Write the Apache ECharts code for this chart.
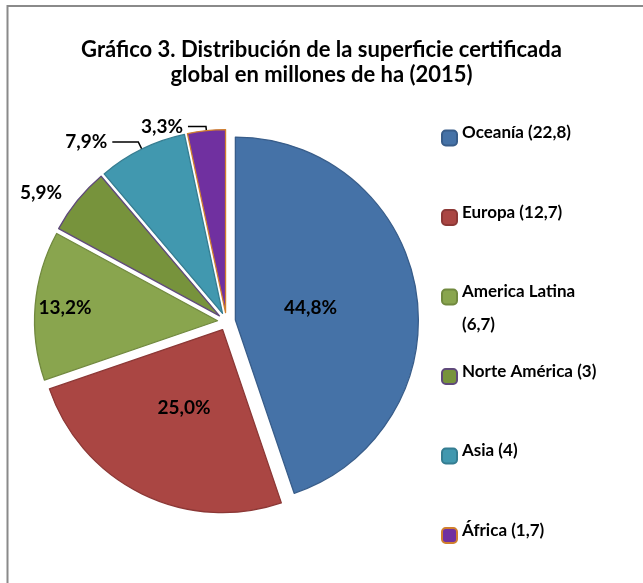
<!DOCTYPE html>
<html>
<head>
<meta charset="utf-8">
<script src="https://cdn.jsdelivr.net/npm/echarts@6/dist/echarts.min.js"></script>
<style>
  html, body { margin: 0; padding: 0; background: #fff; }
  #chart { width: 643px; height: 583px; }
</style>
</head>
<body>
<div id="chart"></div>
<script>
// superficie certificada por región, millones de ha (2015)
const regions = ["Oceanía", "Europa", "America Latina", "Norte América", "Asia", "África"];
const hectares = [22.8, 12.7, 6.7, 3, 4, 1.7];

const fills = ["#4572A7", "#AA4643", "#89A54E", "#77933C", "#4198AF", "#7030A0"];
const borders = ["#385D8A", "#8C3836", "#71893F", "#5F497A", "#357D91", "#D07F2E"];

// where each percentage sits along its slice radius (0 = apex, 1 = rim)
const insideRadius = [0.4, 0.46, 0.82];
const outsideLine = [
  { length: 12, length2: 1, show: false },
  { length: 8, length2: 26, show: true },
  { length: 4, length2: 18, show: true },
];

const total = hectares.reduce((a, b) => a + b, 0);
const fmt = (v, d) => v.toFixed(d).replace(".", ",");

const PIE_R = 183;
const MAX_ONE_LINE = 18;

// mid angle of every slice, clockwise from 12 o'clock
const midAngles = [];
let acc = 0;
hectares.forEach((v) => {
  midAngles.push(((acc + v / 2) / total) * Math.PI * 2);
  acc += v;
});

const legendText = (name) => {
  const i = regions.indexOf(name);
  const full = `${name} (${fmt(hectares[i], 1).replace(",0", "")})`;
  if (full.length > MAX_ONE_LINE) {
    return `{s| }\n{t|${name}}\n{t|(${fmt(hectares[i], 1)})}`;
  }
  return `{s| }\n{t|${full}}\n{t| }`;
};

const seriesData = regions.map((name, i) => {
  const item = {
    name,
    value: hectares[i],
    selected: true,
    itemStyle: { color: fills[i], borderColor: borders[i], borderWidth: 1.3 },
    select: { itemStyle: { color: fills[i], borderColor: borders[i], borderWidth: 1.3 } },
  };
  if (i >= 3) {
    const ol = outsideLine[i - 3];
    item.label = { position: "outside" };
    item.labelLine = {
      show: ol.show,
      length: ol.length,
      length2: ol.length2,
      lineStyle: { color: "#000", width: 1.5 },
    };
  }
  return item;
});

const chart = echarts.init(document.getElementById("chart"));

chart.setOption({
  backgroundColor: "#fff",
  animation: false,
  title: {
    text: "Gráfico 3. Distribución de la superficie certificada\nglobal en millones de ha (2015)",
    left: "center",
    top: 32,
    textStyle: {
      fontFamily: "Lato",
      fontWeight: "bold",
      fontSize: 22,
      lineHeight: 25,
      color: "#000",
    },
  },
  legend: {
    orient: "vertical",
    left: 436,
    top: 95,
    itemWidth: 15,
    itemHeight: 15,
    itemGap: 5,
    selectedMode: false,
    data: regions,
    formatter: legendText,
    textStyle: {
      rich: {
        s: { fontSize: 10, lineHeight: 23 },
        t: {
          fontFamily: "Lato",
          fontWeight: "bold",
          fontSize: 17,
          lineHeight: 33,
          color: "#000",
        },
      },
    },
  },
  graphic: [
    {
      type: "polyline",
      silent: true,
      shape: { points: [[7.5, 583], [7.5, 6], [643, 6]] },
      style: { stroke: "#8a8a8a", lineWidth: 2, fill: null },
    },
  ],
  series: [
    {
      type: "pie",
      center: [226.5, 321.5],
      radius: PIE_R,
      startAngle: 90,
      clockwise: true,
      selectedMode: "multiple",
      selectedOffset: 9,
      avoidLabelOverlap: false,
      silent: true,
      emphasis: { disabled: true },
      label: {
        show: true,
        position: "inside",
        formatter: (p) => `${fmt((p.value / total) * 100, 1)}%`,
        fontFamily: "Lato",
        fontWeight: "bold",
        fontSize: 19,
        color: "#000",
      },
      labelLayout: (p) => {
        const i = p.dataIndex;
        if (i >= insideRadius.length) return {};
        const shift = (insideRadius[i] - 0.5) * PIE_R;
        return {
          dx: shift * Math.sin(midAngles[i]),
          dy: -shift * Math.cos(midAngles[i]),
        };
      },
      data: seriesData,
    },
  ],
});
</script>
</body>
</html>
